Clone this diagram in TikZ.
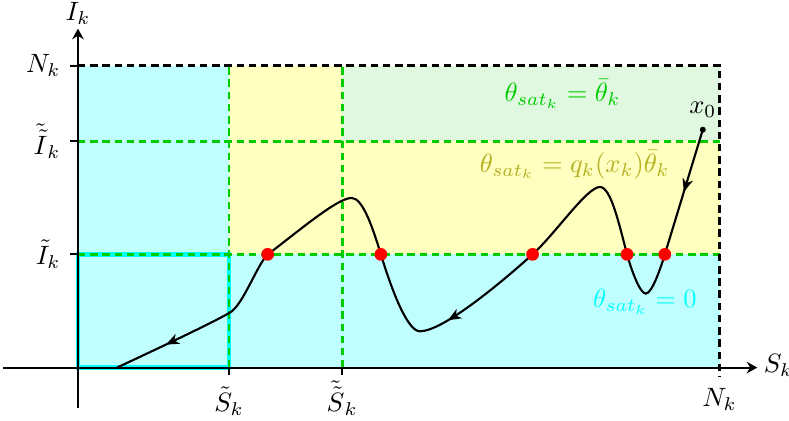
\documentclass[tikz,border=0pt]{standalone}
\usepackage{xcolor}
\usepackage{tikz}
\usetikzlibrary{decorations.markings,arrows.meta}
\definecolor{satgreen}{HTML}{00CC00}
\definecolor{satolive}{HTML}{B5B020}
\definecolor{satcyan}{HTML}{00FFFF}
\definecolor{zonecyan}{HTML}{C0FFFF}
\definecolor{zoneyellow}{HTML}{FFFFC0}
\definecolor{zonegreen}{HTML}{E0F8E0}

\tikzset{
  griddash/.style={satgreen,line width=1.05pt,dash pattern=on 2.8pt off 1.8pt},
  borderdash/.style={black,line width=1.05pt,dash pattern=on 2.8pt off 1.8pt},
  axis/.style={thick,-{Stealth[length=4pt,width=4.4pt,inset=1.3pt]}},
  traj/.style={black,thick},
  midarrow/.style={postaction={decorate},decoration={markings,
    mark=at position #1 with {\arrow{Stealth[length=5pt,width=4pt,inset=1.5pt]}}}},
  midarrow/.default=0.5,
  reddot/.style={circle,fill=red,inner sep=0pt,minimum size=4.8pt}
}

\begin{document}
\begin{tikzpicture}
  \useasboundingbox (-1.033,-0.70) rectangle (9.42,4.87);
  % regions
  \fill[zonecyan] (0,0) rectangle (2,4);
  \fill[zonecyan] (2,0) rectangle (8.5,1.5);
  \fill[zoneyellow] (2,1.5) rectangle (8.5,3);
  \fill[zoneyellow] (2,3) rectangle (3.5,4);
  \fill[zonegreen] (3.5,3) rectangle (8.5,4);
  \draw[satcyan,line width=1.8pt] (0,0) rectangle (2,1.5);

  % dashed levels
  \draw[griddash] (0,1.5) -- (8.5,1.5);
  \draw[griddash] (0,3) -- (8.5,3);
  \draw[griddash] (2,0) -- (2,4);
  \draw[griddash] (3.5,0) -- (3.5,4);
  \draw[borderdash] (0,4) -- (8.5,4) -- (8.5,-0.12);

  % axes
  \coordinate (xs) at (-0.99,0);
  \coordinate (xe) at (9.0,0);
  \coordinate (ys) at (0,-0.53);
  \coordinate (ye) at (0,4.49);
  \draw[axis] (xs) -- (xe);
  \draw[axis] (ys) -- (ye);
  \node[anchor=base west,inner sep=0pt] (Sk) at (9.08,-0.07) {$S_k$};
  \node[anchor=base] (Ik) at (0,4.6) {$I_k$};

  % ticks
  \draw[thick] (2,0) -- (2,-0.1);
  \draw[thick] (3.5,0) -- (3.5,-0.1);
  \node (St) at (2,-0.44) {$\tilde{S}_k$};
  \node (Stt) at (3.5,-0.40) {$\tilde{\tilde{S}}_k$};
  \node (Nx) at (8.5,-0.42) {$N_k$};
  \draw[thick] (0,4) -- (-0.1,4) node[left] (Ny) {$N_k$};
  \draw[thick] (0,3) -- (-0.1,3) node[left] (Itt) {$\tilde{\tilde{I}}_k$};
  \draw[thick] (0,1.5) -- (-0.1,1.5) node[left] (It) {$\tilde{I}_k$};

  % region labels
  \node[satgreen] (lbar) at (6.42,3.62) {$\theta_{sat_k}=\bar{\theta}_k$};
  \node[satolive] (lq) at (6.58,2.69) {$\theta_{sat_k}=q_k(x_k)\bar{\theta}_k$};
  \node[satcyan] (lzero) at (7.51,0.87) {$\theta_{sat_k}=0$};

  % trajectory
  \coordinate (x0) at (8.278,3.152);
  \coordinate (p5) at (7.775,1.5);
  \coordinate (m2) at (7.523,0.98);
  \coordinate (p4) at (7.275,1.5);
  \coordinate (pk2) at (6.914,2.393);
  \coordinate (p3) at (6.023,1.5);
  \coordinate (m1) at (4.53,0.481);
  \coordinate (p2) at (4.013,1.5);
  \coordinate (pk1) at (3.625,2.248);
  \coordinate (p1) at (2.513,1.5);
  \coordinate (bd) at (2.013,0.728);
  \coordinate (e) at (0.517,0);

  \draw[traj,midarrow=0.5] (x0) -- (p5);
  \draw[traj] (p5) .. controls (7.717,1.309) and (7.603,0.98) .. (m2)
    .. controls (7.443,0.98) and (7.327,1.307) .. (p4)
    .. controls (7.171,1.886) and (7.064,2.393) .. (pk2)
    .. controls (6.744,2.393) and (6.32,1.768) .. (p3);
  \draw[traj,midarrow=0.78] (p3) .. controls (5.577,1.099) and (4.83,0.481) .. (m1);
  \draw[traj] (m1) .. controls (4.38,0.481) and (4.188,0.926) .. (p2)
    .. controls (3.911,1.835) and (3.775,2.248) .. (pk1)
    .. controls (3.425,2.248) and (2.837,1.735) .. (p1)
    .. controls (2.372,1.359) and (2.186,0.828) .. (bd);
  \draw[traj,midarrow=0.57] (bd) .. controls (1.753,0.578) and (0.88,0.169) .. (e);

  \fill (x0) circle (0.04) node[above=1pt] (lx0) {$x_0$};
  \foreach \p in {p1,p2,p3,p4,p5}
    \node[reddot] at (\p) {};
\end{tikzpicture}
\end{document}
